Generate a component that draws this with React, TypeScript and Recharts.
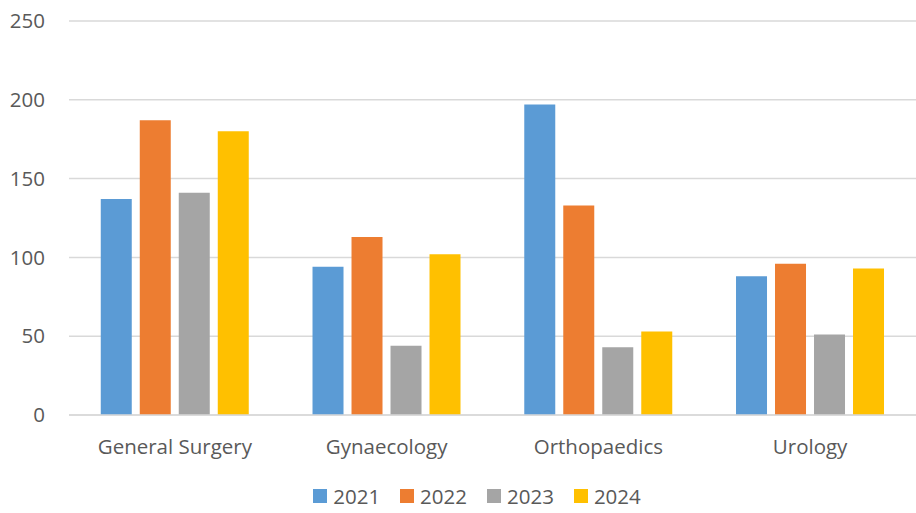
import React from 'react';
import { BarChart, Bar, XAxis, YAxis, CartesianGrid, Legend } from 'recharts';

const categories = ['General Surgery', 'Gynaecology', 'Orthopaedics', 'Urology'];
const series2021 = [137, 94, 197, 88];
const series2022 = [187, 113, 133, 96];
const series2023 = [141, 44, 43, 51];
const series2024 = [180, 102, 53, 93];
const yTicks = [0, 50, 100, 150, 200, 250];
const seriesNames = ['2021', '2022', '2023', '2024'];
const colors = ['#5B9BD5', '#ED7D31', '#A5A5A5', '#FFC000'];

const data = categories.map((c, i) => ({
  name: c,
  '2021': series2021[i],
  '2022': series2022[i],
  '2023': series2023[i],
  '2024': series2024[i],
}));

const FONT = '"Open Sans", sans-serif';

const LegendContent = () => (
  <div style={{ display: 'flex', justifyContent: 'center', alignItems: 'center', fontFamily: FONT, fontSize: 20.5, color: '#595959', height: 48, paddingTop: 14, paddingLeft: 38, boxSizing: 'border-box' }}>
    {seriesNames.map((s, i) => (
      <div key={s} style={{ display: 'flex', alignItems: 'center', margin: '0 10px' }}>
        <span style={{ display: 'inline-block', width: 14, height: 14, background: colors[i], marginRight: 6 }} />
        <span>{s}</span>
      </div>
    ))}
  </div>
);

export default function App() {
  return (
    <div style={{ position: 'absolute', left: 0, top: 0, width: 916, height: 513, background: '#fff' }}>
      <BarChart
        width={916}
        height={513}
        data={data}
        margin={{ top: 21, right: 0, left: 0, bottom: 0 }}
        barCategoryGap="15%"
        barGap={8}
      >
        <CartesianGrid vertical={false} stroke="#D9D9D9" strokeWidth={1.5} />
        <XAxis
          dataKey="name"
          axisLine={{ stroke: '#D9D9D9', strokeWidth: 1.5 }}
          tickLine={false}
          height={50}
          tickMargin={18}
          tick={{ fill: '#595959', fontSize: 20.5, fontFamily: FONT }}
        />
        <YAxis
          width={69}
          domain={[0, 250]}
          ticks={yTicks}
          axisLine={false}
          tickLine={false}
          tickSize={0}
          tickMargin={24}
          tick={{ fill: '#595959', fontSize: 20.5, fontFamily: FONT }}
        />
        <Legend verticalAlign="bottom" height={48} content={<LegendContent />} />
        {seriesNames.map((s, i) => (
          <Bar key={s} dataKey={s} fill={colors[i]} isAnimationActive={false} />
        ))}
      </BarChart>
    </div>
  );
}
